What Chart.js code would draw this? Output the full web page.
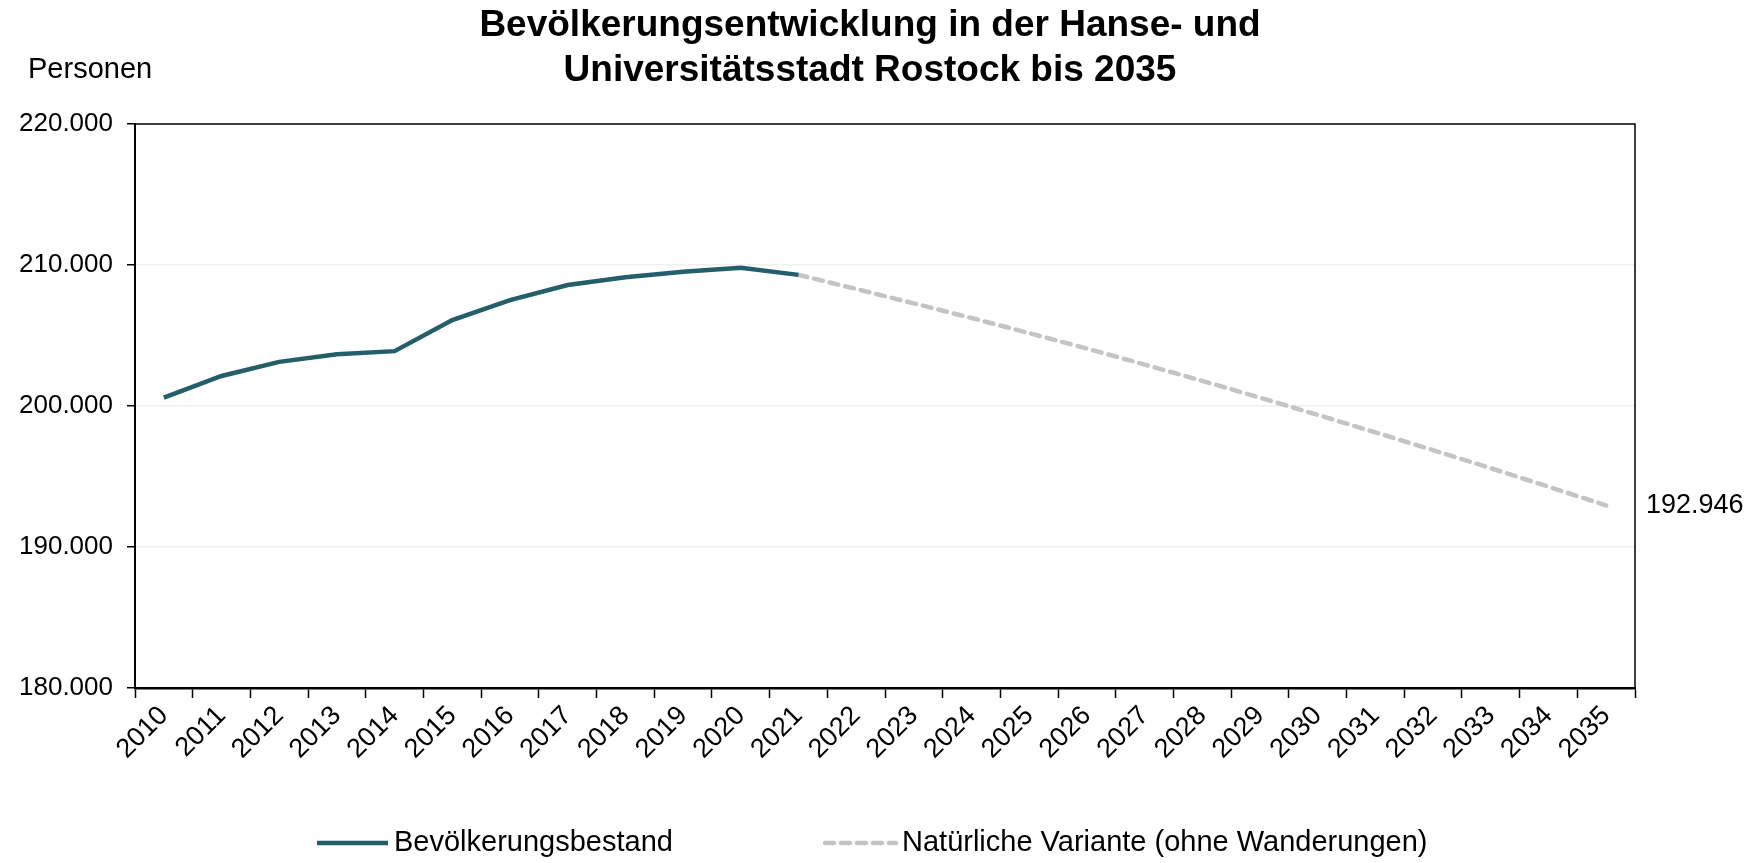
<!DOCTYPE html>
<html lang="de">
<head>
<meta charset="utf-8">
<title>Bevölkerungsentwicklung Rostock bis 2035</title>
<script src="https://cdn.jsdelivr.net/npm/chart.js@4/dist/chart.umd.min.js"></script>
<style>
  html, body { margin: 0; padding: 0; background: #fff; }
  #wrap { position: relative; width: 1764px; height: 863px; }
</style>
</head>
<body>
<div id="wrap"><canvas id="popChart" width="1764" height="863"></canvas></div>
<script>
// Data
const years = ['2010', '2011', '2012', '2013', '2014', '2015', '2016', '2017', '2018',
  '2019', '2020', '2021', '2022', '2023', '2024', '2025', '2026', '2027', '2028',
  '2029', '2030', '2031', '2032', '2033', '2034', '2035'];

const bestand = [200600, 202130, 203130, 203670, 203890, 206090, 207510, 208580,
  209130, 209520, 209810, 209300,
  null, null, null, null, null, null, null, null, null, null, null, null, null, null];

const natuerlich = [null, null, null, null, null, null, null, null, null, null, null,
  209300, 208300, 207280, 206240, 205170, 204070, 202940, 201780, 200590, 199370,
  198130, 196870, 195590, 194280, 192946];

const yTicks = [180000, 190000, 200000, 210000, 220000];

const seriesLabels = ['Bevölkerungsbestand', 'Natürliche Variante (ohne Wanderungen)'];
const titleLines = ['Bevölkerungsentwicklung in der Hanse- und', 'Universitätsstadt Rostock bis 2035'];
const unitLabel = 'Personen';

const FONT = '"Liberation Sans", Arial, Helvetica, sans-serif';

// 220000 -> "220.000"
function fmt(v) {
  return String(v).replace(/\B(?=(\d{3})+(?!\d))/g, '.');
}

// Title, unit label, frame, end value and legend
const textPlugin = {
  id: 'textPlugin',
  afterDraw(chart) {
    const ctx = chart.ctx;
    const area = chart.chartArea;
    ctx.save();
    ctx.fillStyle = '#000';

    // title
    ctx.font = 'bold 37px ' + FONT;
    ctx.textAlign = 'center';
    ctx.textBaseline = 'middle';
    ctx.fillText(titleLines[0], 870, 26);
    ctx.fillText(titleLines[1], 870, 71);

    // unit
    ctx.font = '29px ' + FONT;
    ctx.textAlign = 'left';
    ctx.fillText(unitLabel, 28, 70);

    // top and right frame
    ctx.strokeStyle = '#000';
    ctx.lineWidth = 1.5;
    ctx.beginPath();
    ctx.moveTo(area.left, area.top);
    ctx.lineTo(area.right, area.top);
    ctx.lineTo(area.right, area.bottom);
    ctx.stroke();

    // last projected value
    const lastVal = natuerlich[natuerlich.length - 1];
    const yLast = chart.scales.y.getPixelForValue(lastVal);
    ctx.font = '27px ' + FONT;
    ctx.fillText(fmt(lastVal), area.right + 11, yLast);

    // legend
    const legendX = [317, 825];
    const legendY = 843;
    ctx.font = '29px ' + FONT;
    chart.data.datasets.forEach((ds, i) => {
      ctx.save();
      ctx.strokeStyle = ds.borderColor;
      ctx.lineWidth = ds.borderWidth;
      ctx.lineCap = ds.borderCapStyle || 'butt';
      ctx.setLineDash(ds.borderDash || []);
      ctx.beginPath();
      ctx.moveTo(legendX[i], legendY);
      ctx.lineTo(legendX[i] + 71, legendY);
      ctx.stroke();
      ctx.restore();
      ctx.fillText(ds.label, legendX[i] + 77, legendY);
    });
    ctx.restore();
  }
};

const ctx = document.getElementById('popChart');
new Chart(ctx, {
  type: 'line',
  data: {
    labels: years,
    datasets: [
      {
        label: seriesLabels[0],
        data: bestand,
        borderColor: '#235e6b',
        borderWidth: 4.5,
        pointRadius: 0,
        tension: 0,
        spanGaps: false
      },
      {
        label: seriesLabels[1],
        data: natuerlich,
        borderColor: '#c4c4c4',
        borderWidth: 4.5,
        borderDash: [9, 7],
        borderCapStyle: 'round',
        pointRadius: 0,
        tension: 0,
        spanGaps: false
      }
    ]
  },
  options: {
    responsive: false,
    animation: false,
    layout: { padding: { left: 0, right: 129, top: 124, bottom: 0 } },
    plugins: {
      legend: { display: false },
      title: { display: false },
      tooltip: { enabled: false }
    },
    scales: {
      x: {
        offset: true,
        grid: {
          display: true,
          drawOnChartArea: false,
          offset: true,
          tickLength: 10,
          tickColor: '#000',
          tickWidth: 1.5
        },
        border: { display: true, color: '#000', width: 2.5 },
        ticks: {
          color: '#000',
          font: { family: FONT, size: 27 },
          maxRotation: 45,
          minRotation: 45,
          autoSkip: false,
          padding: 2
        },
        afterFit(scale) { scale.height = 175; }
      },
      y: {
        min: yTicks[0],
        max: yTicks[yTicks.length - 1],
        afterBuildTicks(scale) { scale.ticks = yTicks.map(v => ({ value: v })); },
        grid: {
          color: c => (c.tick && c.tick.value > yTicks[0] && c.tick.value < yTicks[yTicks.length - 1]) ? '#f0f0f0' : 'rgba(0,0,0,0)',
          lineWidth: 1.5,
          tickLength: 8,
          tickColor: '#000',
          tickWidth: 1.5
        },
        border: { display: true, color: '#000', width: 2 },
        ticks: {
          color: '#000',
          font: { family: FONT, size: 26 },
          padding: 14,
          callback: v => fmt(v)
        },
        afterFit(scale) { scale.width = 135; }
      }
    }
  },
  plugins: [textPlugin]
});
</script>
</body>
</html>
